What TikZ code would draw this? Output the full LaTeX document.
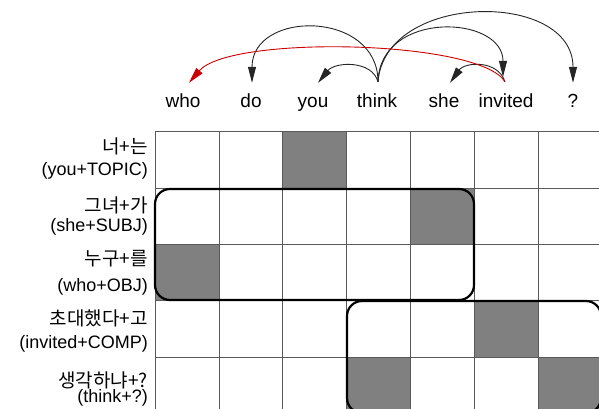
\documentclass[tikz,border=0pt]{standalone}
\usepackage{fontspec}
\setmainfont{Liberation Sans}
\newfontfamily\kr{Noto Sans CJK KR}
\usetikzlibrary{arrows.meta}
\begin{document}
\begin{tikzpicture}[x=1pt,y=-1pt,
  word/.style={anchor=base,inner sep=0pt,text height=14pt,text depth=4pt,font=\fontsize{19}{22}\selectfont},
  korlab/.style={anchor=east,inner sep=0pt,font=\kr\fontsize{19}{22}\selectfont},
  englab/.style={anchor=east,inner sep=0pt,font=\fontsize{18}{22}\selectfont},
  gridline/.style={draw=black!65,line width=0.8pt},
  cellfill/.style={fill=black!50},
  groupbox/.style={draw=black,line width=2.2pt,rounded corners=15pt},
  arc/.style={draw=black!85,line width=0.9pt,-{Triangle[length=16pt,width=8pt]}},
  redarc/.style={draw=red!80!black,line width=0.9pt,-{Triangle[length=16pt,width=8pt]}}]
\useasboundingbox (0,0) rectangle (599,409);
\fill[white] (0,0) rectangle (599,409);

% words
\node[word] (who) at (183,107) {who};
\node[word] (do) at (251,107) {do};
\node[word] (you) at (313,107) {you};
\node[word] (think) at (377,107) {think};
\node[word] (she) at (444,107) {she};
\node[word] (invited) at (506,107) {invited};
\node[word] (q) at (573,107) {?};

% row labels
\node[korlab] (k1) at (148,146) {너+는};
\node[englab] (e1) at (148,171) {(you+TOPIC)};
\node[korlab] (k2) at (148,205) {그녀+가};
\node[englab] (e2) at (148,227) {(she+SUBJ)};
\node[korlab] (k3) at (148,259) {누구+를};
\node[englab] (e3) at (148,287) {(who+OBJ)};
\node[korlab] (k4) at (148,318) {초대했다+고};
\node[englab] (e4) at (148,344) {(invited+COMP)};
\node[korlab] (k5) at (148,380) {생각하냐+?};
\node[englab] (e5) at (148,398) {(think+?)};

\begin{scope}
\clip (0,0) rectangle (599,409);
% shaded cells
\fill[cellfill] (282,131) rectangle (346,188);
\fill[cellfill] (410,188) rectangle (474,244);
\fill[cellfill] (155,244) rectangle (219,300);
\fill[cellfill] (474,300) rectangle (538,357);
\fill[cellfill] (346,357) rectangle (410,413);
\fill[cellfill] (538,357) rectangle (602,413);
% grid
\foreach \x in {155,219,282,346,410,474,538,602}
  \draw[gridline] (\x,131) -- (\x,413);
\foreach \y in {131,188,244,300,357,413}
  \draw[gridline] (155,\y) -- (602,\y);
% grouping boxes
\draw[groupbox] (155,189) rectangle (474,300);
\draw[groupbox] (347,301) rectangle (601,413);
\end{scope}

% dependency arcs
\draw[arc] ([yshift=11pt,xshift=1pt]think.north) .. controls +(0,-72) and +(0,-73) .. ([yshift=10pt,xshift=1pt]do.north);
\draw[arc] ([yshift=11pt,xshift=1pt]think.north) .. controls +(-6,-22) and +(17,-21) .. ([yshift=10pt,xshift=5pt]you.north);
\draw[arc] ([yshift=11pt,xshift=1pt]think.north) .. controls +(2,-72) and +(0,-62) .. ([yshift=16pt,xshift=-3pt]invited.north);
\draw[arc] ([yshift=11pt,xshift=1pt]think.north) .. controls +(7,-90) and +(0,-93) .. ([yshift=10pt]q.north);
\draw[arc] ([yshift=11pt,xshift=-1pt]invited.north) .. controls +(-7,-22) and +(15,-21) .. ([yshift=10pt,xshift=6pt]she.north);
\draw[redarc] ([yshift=11pt,xshift=-1pt]invited.north) .. controls +(-25,-42) and +(41,-48) .. ([yshift=10pt,xshift=6pt]who.north);
\end{tikzpicture}
\end{document}
